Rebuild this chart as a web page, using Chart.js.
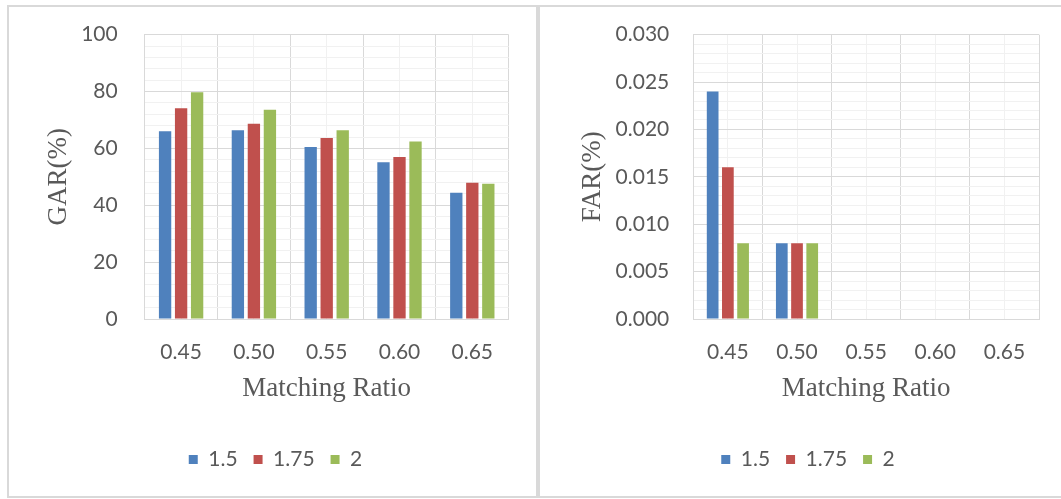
<!DOCTYPE html>
<html>
<head>
<meta charset="utf-8">
<title>GAR and FAR by matching ratio</title>
<script src="https://cdn.jsdelivr.net/npm/chart.js@4.4.1/dist/chart.umd.min.js"></script>
<style>
  html, body { margin: 0; padding: 0; background: #ffffff; }
  body { width: 1061px; height: 499px; position: relative; overflow: hidden; }
  .panel { position: absolute; border: 2px solid #d9d9d9; background: #ffffff; }
  #panelGar { left: 7px; top: 5px; width: 527px; height: 489px; }
  #panelFar { left: 538px; top: 5px; width: 523px; height: 489px; }
  canvas { display: block; }
</style>
</head>
<body>
<div class="panel" id="panelGar"><canvas id="garChart" width="527" height="489"></canvas></div>
<div class="panel" id="panelFar"><canvas id="farChart" width="521" height="489"></canvas></div>
<script>
// Matching ratio categories and the three threshold series
const matchingRatios = ['0.45', '0.50', '0.55', '0.60', '0.65'];
const seriesNames = ['1.5', '1.75', '2'];
const seriesColors = ['#4f81bd', '#c0504d', '#9bbb59'];

// Genuine acceptance rate (%)
const gar15 = [66.0, 66.4, 60.5, 55.1, 44.4];
const gar175 = [74.1, 68.7, 63.7, 57.0, 47.9];
const gar2 = [79.8, 73.6, 66.4, 62.4, 47.6];

// False acceptance rate (%)
const far15 = [0.024, 0.008, 0, 0, 0];
const far175 = [0.016, 0.008, 0, 0, 0];
const far2 = [0.008, 0.008, 0, 0, 0];

const MAJOR = '#d9d9d9';
const MINOR = '#f1f1f1';
const TEXT = '#595959';
const TICK_FONT = { family: 'Lato, "Open Sans", sans-serif', size: 21 };
const TITLE_FONT = { family: '"Liberation Serif", "Times New Roman", serif', size: 27 };

function datasets(values) {
  return values.map((vals, i) => ({
    label: seriesNames[i],
    data: vals,
    backgroundColor: seriesColors[i],
    borderWidth: 0,
    categoryPercentage: 0.66,
    barPercentage: 0.77
  }));
}

function buildChart(canvasId, values, yCfg) {
  return new Chart(document.getElementById(canvasId), {
    type: 'bar',
    data: { labels: matchingRatios, datasets: datasets(values) },
    options: {
      responsive: false,
      animation: false,
      devicePixelRatio: 1,
      layout: { padding: { top: 27.7, right: yCfg.padRight, bottom: 16, left: yCfg.padLeft } },
      plugins: {
        tooltip: { enabled: false },
        legend: {
          position: 'bottom',
          labels: {
            boxWidth: 9, boxHeight: 9, padding: 16,
            color: TEXT, font: TICK_FONT
          }
        }
      },
      scales: {
        x: {
          type: 'category',
          offset: true,
          grid: { offset: true, color: MAJOR, lineWidth: 1, drawTicks: false },
          border: { display: true, color: MAJOR, width: 1 },
          ticks: { color: TEXT, font: TICK_FONT, padding: 20.5, maxRotation: 0, autoSkip: false },
          title: {
            display: true, text: 'Matching Ratio', color: TEXT, font: TITLE_FONT,
            padding: { top: 0, bottom: 27.8 }
          },
          afterFit: (scale) => { scale.height = 114; }
        },
        // category-centre minor gridlines
        xMinor: {
          type: 'category',
          position: 'top',
          offset: true,
          grid: { offset: false, color: MINOR, lineWidth: 1, drawTicks: false },
          border: { display: false },
          ticks: { display: false },
          afterFit: (scale) => { scale.height = 0; }
        },
        y: {
          min: 0,
          max: yCfg.max,
          grid: {
            color: (ctx) => (ctx.tick && yCfg.isMajor(ctx.tick.value)) ? MAJOR : MINOR,
            lineWidth: 1, drawTicks: false
          },
          border: { display: true, color: MAJOR, width: 1 },
          ticks: {
            stepSize: yCfg.minorStep,
            autoSkip: false,
            color: TEXT, font: TICK_FONT, padding: yCfg.tickPad,
            callback: (v) => yCfg.isMajor(v) ? yCfg.format(v) : ''
          },
          title: {
            display: true, text: yCfg.title, color: TEXT, font: TITLE_FONT,
            padding: { top: yCfg.titlePad, bottom: 0 }
          },
          afterFit: (scale) => {
            scale.width = yCfg.axisWidth;
            // keep the tick padding from pushing the plot area down
            scale.paddingTop = 0;
            scale.paddingBottom = 0;
          }
        }
      }
    }
  });
}

buildChart('garChart', [gar15, gar175, gar2], {
  max: 100,
  minorStep: 4,
  isMajor: (v) => Math.round(v) % 20 === 0,
  format: (v) => String(Math.round(v)),
  title: 'GAR(%)',
  titlePad: 0.5,
  tickPad: 27,
  axisWidth: 102.4,
  padLeft: 33.3,
  padRight: 27.3
});

buildChart('farChart', [far15, far175, far2], {
  max: 0.03,
  minorStep: 0.001,
  isMajor: (v) => Math.round(v * 1000) % 5 === 0,
  format: (v) => v.toFixed(3),
  title: 'FAR(%)',
  titlePad: 0,
  tickPad: 24,
  axisWidth: 116.3,
  padLeft: 37,
  padRight: 22
});
</script>
</body>
</html>
